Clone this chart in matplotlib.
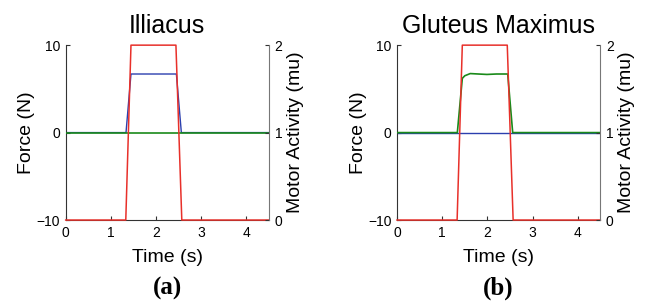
import matplotlib
matplotlib.use("Agg")
import matplotlib.pyplot as plt

# time points (s) and traces
t_red = [0, 1.33, 1.445, 2.44, 2.57, 4.5]
red_force = [-10, -10, 10, 10, -10, -10]

t_act = [0, 1.335, 1.445, 2.45, 2.56, 4.5]
illiacus_act = [0, 0, 6.7, 6.7, 0, 0]

t_glut = [0, 1.335, 1.445, 1.5, 1.62, 1.8, 1.99, 2.2, 2.45, 2.56, 4.5]
gluteus_act = [0, 0, 6.2, 6.5, 6.75, 6.7, 6.65, 6.7, 6.7, 0, 0]

flat_t = [0, 4.5]
flat_zero = [0, 0]

titles = ["Illiacus", "Gluteus Maximus"]
panel_tags = ["(a)", "(b)"]
xticks = [0, 1, 2, 3, 4]
yticks_left = [-10, 0, 10]
yticks_right = [0, 1, 2]

RED = "#e8302a"
BLUE = "#2b3fae"
GREEN = "#1a8a1a"

plt.rcParams["font.family"] = ["Liberation Sans", "DejaVu Sans"]

fig = plt.figure(figsize=(6.46, 3.01), dpi=100)

lefts = [0.1017, 0.6146]
for i in range(2):
    ax = fig.add_axes([lefts[i], 0.269, 0.3147, 0.581])
    ax2 = ax.twinx()

    if i == 0:
        ax.plot(t_act, illiacus_act, color=BLUE, lw=1.0, zorder=2)
        ax.plot(flat_t, flat_zero, color=GREEN, lw=1.2, zorder=3)
    else:
        ax.plot(flat_t, flat_zero, color=BLUE, lw=1.0, zorder=2)
        ax.plot(t_glut, gluteus_act, color=GREEN, lw=1.2, zorder=3)
    ax.plot(t_red, red_force, color=RED, lw=1.1, zorder=4, clip_on=False)

    ax.set_xlim(0, 4.5)
    ax.set_ylim(-10, 10)
    ax2.set_ylim(0, 2)
    ax.set_xticks(xticks)
    ax.set_yticks(yticks_left)
    ax2.set_yticks(yticks_right)
    ax.set_yticklabels(["\u221210", "0", "10"])

    for a in (ax, ax2):
        a.spines["top"].set_visible(False)
        a.tick_params(direction="in", length=3, labelsize=10, pad=4,
                      color="#333333")
    ax.spines["right"].set_visible(False)
    ax2.spines["left"].set_visible(False)
    ax2.spines["bottom"].set_visible(False)
    ax.spines["left"].set_color("#333333")
    ax.spines["bottom"].set_color("#333333")
    ax2.spines["right"].set_color("#777777")

    ax.set_title(titles[i], fontsize=18, pad=9)
    ax.set_xlabel("Time (s)", fontsize=14, labelpad=7)
    ax.set_ylabel("Force (N)", fontsize=14, labelpad=1)
    ax2.set_ylabel("Motor Activity (mu)", fontsize=14, labelpad=3)

    ax.text(0.5, -0.39, panel_tags[i], transform=ax.transAxes,
            ha="center", va="center", fontsize=18, fontweight="bold",
            family=["Liberation Serif", "DejaVu Serif"])

fig.savefig("out.png", dpi=100)
